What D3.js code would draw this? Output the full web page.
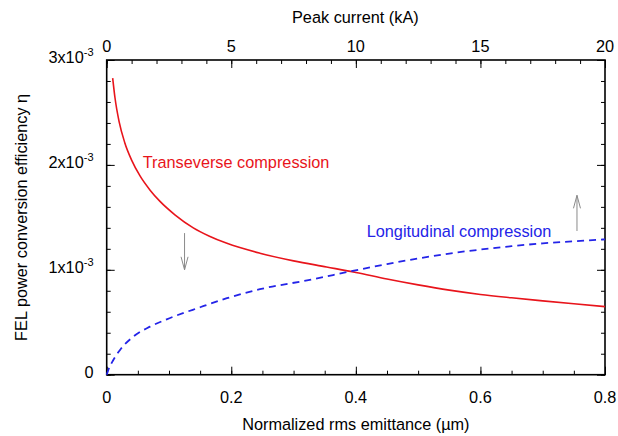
<!DOCTYPE html>
<html>
<head>
<meta charset="utf-8">
<script src="https://cdn.jsdelivr.net/npm/d3@7"></script>
<style>
  html, body { margin: 0; padding: 0; background: #fff; }
  svg { display: block; font-family: "Liberation Sans", Arial, Helvetica, sans-serif; }
</style>
</head>
<body>
<svg id="chart" width="618" height="436"></svg>
<script>
// ---- data (eta in units of 1e-3) ----
const transX = [0.0096, 0.0133, 0.020, 0.029, 0.040, 0.0535, 0.0700, 0.0856, 0.110, 0.139, 0.165, 0.193, 0.246, 0.300, 0.353, 0.400, 0.450, 0.500, 0.550, 0.600, 0.650, 0.700, 0.750, 0.800];
const transY = [2.828, 2.64, 2.41, 2.212, 2.046, 1.895, 1.757, 1.652, 1.522, 1.400, 1.320, 1.252, 1.158, 1.085, 1.027, 0.975, 0.912, 0.856, 0.806, 0.765, 0.733, 0.704, 0.676, 0.649];
const longX = [0, 0.0026, 0.0106, 0.0214, 0.0427, 0.0695, 0.0963, 0.150, 0.193, 0.246, 0.326, 0.390, 0.450, 0.500, 0.550, 0.600, 0.650, 0.700, 0.750, 0.800];
const longY = [0, 0.045, 0.14, 0.236, 0.363, 0.458, 0.528, 0.643, 0.729, 0.815, 0.904, 0.983, 1.055, 1.108, 1.155, 1.193, 1.225, 1.252, 1.272, 1.29];
const xTicks = [0, 0.2, 0.4, 0.6, 0.8];
const xTickLabels = ["0", "0.2", "0.4", "0.6", "0.8"];
const topTicks = [0, 5, 10, 15, 20];
const topTickLabels = ["0", "5", "10", "15", "20"];
const yTicks = [0, 1, 2, 3];
const yTickMantissa = ["0", "1x10", "2x10", "3x10"];
const yTickExp = ["", "-3", "-3", "-3"];
const arrowDown = { x: 0.125, from: 1.35, to: 1.0 };
const arrowUp = { x: 0.755, from: 1.37, to: 1.71 };

const W = 618, H = 436;
const m = { left: 106.7, top: 60, right: 13, bottom: 61.3 };
const svg = d3.select("#chart");

const x = d3.scaleLinear().domain([0, 0.8]).range([m.left, W - m.right]);
const xTop = d3.scaleLinear().domain([0, 20]).range([m.left, W - m.right]);
const y = d3.scaleLinear().domain([0, 3]).range([H - m.bottom, m.top]);

const tickColor = "#000";
function drawAxis(axisGen, transform, ticksMajor, ticksMinor) {
  const g = svg.append("g").attr("transform", transform);
  g.call(axisGen.tickValues(ticksMinor).tickSize(-4).tickFormat(""));
  g.select(".domain").remove();
  g.selectAll("line").attr("stroke", tickColor).attr("stroke-width", 1);
  const g2 = svg.append("g").attr("transform", transform);
  g2.call(axisGen.tickValues(ticksMajor).tickSize(-8).tickFormat(""));
  g2.select(".domain").remove();
  g2.selectAll("line").attr("stroke", tickColor).attr("stroke-width", 1);
}
const xMinor = d3.range(0, 0.8001, 0.05);
const topMinor = d3.range(0, 20.001, 1);
const yMinor = d3.range(0, 3.001, 0.2);
drawAxis(d3.axisBottom(x), `translate(0,${H - m.bottom})`, xTicks, xMinor);
drawAxis(d3.axisTop(xTop), `translate(0,${m.top})`, topTicks, topMinor);
drawAxis(d3.axisLeft(y), `translate(${m.left},0)`, yTicks, yMinor);
drawAxis(d3.axisRight(y), `translate(${W - m.right},0)`, yTicks, yMinor);

// frame
svg.append("rect")
  .attr("x", m.left).attr("y", m.top)
  .attr("width", W - m.left - m.right).attr("height", H - m.top - m.bottom)
  .attr("fill", "none").attr("stroke", "#000").attr("stroke-width", 1.6);

// tick labels
const fs = 16.3;
svg.append("g").selectAll("text").data(xTicks).join("text")
  .attr("x", d => x(d)).attr("y", 403)
  .attr("text-anchor", "middle").attr("font-size", fs)
  .text((d, i) => xTickLabels[i]);
svg.append("g").selectAll("text").data(topTicks).join("text")
  .attr("x", d => xTop(d)).attr("y", 51.5)
  .attr("text-anchor", "middle").attr("font-size", fs)
  .text((d, i) => topTickLabels[i]);
const yl = svg.append("g").selectAll("text").data(yTicks).join("text")
  .attr("x", 93.5).attr("y", d => y(d) + 3)
  .attr("text-anchor", "end").attr("font-size", fs);
yl.append("tspan").text((d, i) => yTickMantissa[i]);
yl.append("tspan").attr("dy", -7).attr("font-size", 11).text((d, i) => yTickExp[i]);

// axis titles
svg.append("text").attr("x", (m.left + W - m.right) / 2).attr("y", 430)
  .attr("text-anchor", "middle").attr("font-size", fs)
  .text("Normalized rms emittance (\u00b5m)");
svg.append("text").attr("x", (m.left + W - m.right) / 2 - 0.5).attr("y", 23)
  .attr("text-anchor", "middle").attr("font-size", fs)
  .text("Peak current (kA)");
svg.append("text")
  .attr("transform", `translate(26.5,${(m.top + H - m.bottom) / 2}) rotate(-90)`)
  .attr("text-anchor", "middle").attr("font-size", fs)
  .text("FEL power conversion efficiency \u03b7");

// curves
const line = d3.line().x(d => x(d[0])).y(d => y(d[1])).curve(d3.curveMonotoneX);
svg.append("path")
  .attr("d", line(d3.zip(transX, transY)))
  .attr("fill", "none").attr("stroke", "#e8141b").attr("stroke-width", 1.6);
svg.append("path")
  .attr("d", line(d3.zip(longX, longY)))
  .attr("fill", "none").attr("stroke", "#2424e8").attr("stroke-width", 1.8)
  .attr("stroke-dasharray", "7,5");

// annotations
svg.append("text").attr("x", 142.7).attr("y", 168).attr("font-size", 16.3)
  .attr("fill", "#e8141b").text("Transeverse compression");
svg.append("text").attr("x", 366.7).attr("y", 236.5).attr("font-size", 16.3)
  .attr("fill", "#2424e8").text("Longitudinal compression");

function arrow(a) {
  const g = svg.append("g").attr("stroke", "#8a8a8a").attr("stroke-width", 1).attr("fill", "none");
  const x0 = x(a.x), y0 = y(a.from), y1 = y(a.to);
  g.append("line").attr("x1", x0).attr("y1", y0).attr("x2", x0).attr("y2", y1);
  const dir = y1 > y0 ? -1 : 1;
  g.append("path").attr("d", `M${x0 - 3.5},${y1 + dir * 13}L${x0},${y1}L${x0 + 3.5},${y1 + dir * 13}`);
}
arrow(arrowDown);
arrow(arrowUp);
</script>
</body>
</html>
